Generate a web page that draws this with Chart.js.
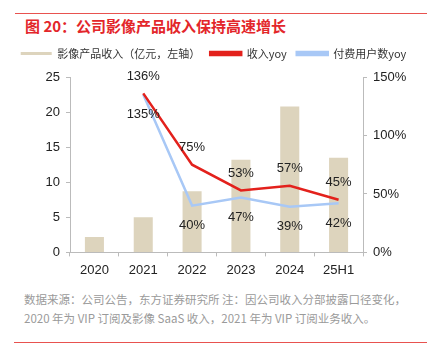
<!DOCTYPE html>
<html>
<head>
<meta charset="utf-8">
<script src="https://cdn.jsdelivr.net/npm/chart.js@4"></script>
<style>
  body { margin: 0; width: 427px; height: 361px; background: #fff; position: relative; overflow: hidden; font-family: "Liberation Sans", "Noto Sans CJK SC", sans-serif; }
  .rule { position: absolute; left: 15px; right: 0; height: 1px; background: #e8524f; }
  #title { position: absolute; left: 25px; top: 15px; font: bold 15px "Noto Sans CJK SC", sans-serif; color: #e3262a; white-space: nowrap; }
  #foot { position: absolute; left: 24px; top: 290px; font: 11.5px/19px "Noto Sans CJK SC", sans-serif; color: #9a9a9a; white-space: nowrap; }
  #wrap { position: absolute; left: 0; top: 38px; width: 427px; height: 246px; }
</style>
</head>
<body>
<div class="rule" style="top:13px"></div>
<div id="title">图 20：公司影像产品收入保持高速增长</div>
<div id="wrap"><canvas id="myChart"></canvas></div>
<div id="foot">数据来源：公司公告，东方证券研究所 注：因公司收入分部披露口径变化，<br>2020 年为 VIP 订阅及影像 SaaS 收入，2021 年为 VIP 订阅业务收入。</div>
<div class="rule" style="top:342px; left:14px"></div>
<script>
const years = ['2020', '2021', '2022', '2023', '2024', '25H1'];
const revenue = [2.2, 5.0, 8.7, 13.2, 20.8, 13.5];      // 亿元
const revenueYoy = [null, 1.36, 0.75, 0.53, 0.57, 0.45];
const payUserYoy = [null, 1.35, 0.40, 0.47, 0.39, 0.42];
const leftTicks = [0, 5, 10, 15, 20, 25];

// 数据标签：收入yoy在点上方，付费用户数yoy在点下方
const labelPlugin = {
    id: 'pctLabels',
    afterDatasetsDraw(chart) {
        const ctx = chart.ctx;
        ctx.save();
        ctx.font = '13px "Liberation Sans", sans-serif';
        ctx.fillStyle = '#222';
        ctx.textAlign = 'center';
        ctx.textBaseline = 'middle';
        [1, 2].forEach(function (di) {
            const meta = chart.getDatasetMeta(di);
            const data = chart.data.datasets[di].data;
            meta.data.forEach(function (pt, i) {
                if (data[i] == null) return;
                const dy = di === 1 ? -17 : 20;
                ctx.fillText(Math.round(data[i] * 100) + '%', pt.x, pt.y + dy);
            });
        });
        ctx.restore();
    }
};

// 图例与绘图区之间留白
const legendGap = {
    id: 'legendGap',
    beforeInit(chart) {
        const fit = chart.legend.fit;
        chart.legend.fit = function () {
            fit.bind(chart.legend)();
            this.height += 8;
        };
    }
};

const tickFont = { family: '"Liberation Sans", sans-serif', size: 13 };

new Chart(document.getElementById('myChart').getContext('2d'), {
    data: {
        labels: years,
        datasets: [
            {
                type: 'bar',
                label: '影像产品收入（亿元，左轴）',
                data: revenue,
                backgroundColor: '#ddd4bd',
                yAxisID: 'y',
                barPercentage: 0.78,
                categoryPercentage: 0.5,
                order: 2
            },
            {
                type: 'line',
                label: '收入yoy',
                data: revenueYoy,
                borderColor: '#e3211c',
                backgroundColor: '#e3211c',
                borderWidth: 2.5,
                pointRadius: 0,
                tension: 0,
                yAxisID: 'y1',
                order: 0
            },
            {
                type: 'line',
                label: '付费用户数yoy',
                data: payUserYoy,
                borderColor: '#a8c8f6',
                backgroundColor: '#a8c8f6',
                borderWidth: 2.5,
                pointRadius: 0,
                tension: 0,
                yAxisID: 'y1',
                order: 1
            }
        ]
    },
    options: {
        responsive: true,
        maintainAspectRatio: false,
        animation: false,
        layout: { padding: 0 },
        plugins: {
            tooltip: { enabled: false },
            legend: {
                position: 'top',
                labels: {
                    boxWidth: 31,
                    boxHeight: 3,
                    padding: 10,
                    color: '#333',
                    font: { family: '"Noto Sans CJK SC", sans-serif', size: 11 },
                    sort: function (a, b) { return a.datasetIndex - b.datasetIndex; }
                }
            }
        },
        scales: {
            x: {
                grid: { display: true, drawOnChartArea: false, tickLength: 4, color: '#bbb', offset: true },
                border: { color: '#bbb' },
                ticks: { color: '#222', font: tickFont, padding: 6 }
            },
            y: {
                position: 'left',
                min: 0, max: 25,
                afterBuildTicks: function (axis) { axis.ticks = leftTicks.map(v => ({ value: v })); },
                afterFit: function (axis) { axis.width = 70; },
                grid: { drawOnChartArea: false, tickLength: 4, color: '#bbb' },
                border: { color: '#bbb' },
                ticks: { color: '#222', font: tickFont, padding: 6 }
            },
            y1: {
                position: 'right',
                min: 0, max: 1.5,
                afterFit: function (axis) { axis.width = 64; },
                grid: { drawOnChartArea: false, tickLength: 4, color: '#bbb' },
                border: { color: '#bbb' },
                ticks: {
                    stepSize: 0.5,
                    color: '#222',
                    font: tickFont,
                    padding: 6,
                    callback: function (v) { return Math.round(v * 100) + '%'; }
                }
            }
        }
    },
    plugins: [labelPlugin, legendGap]
});
</script>
</body>
</html>
